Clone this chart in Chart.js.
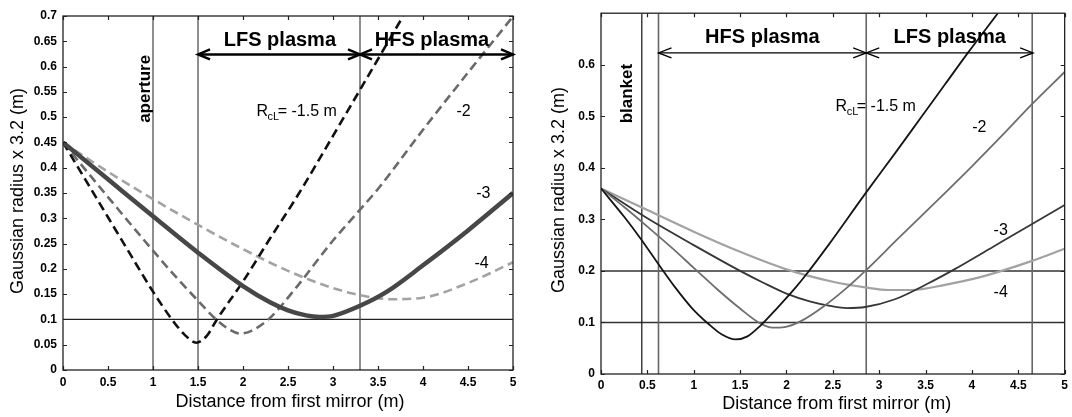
<!DOCTYPE html>
<html><head><meta charset="utf-8">
<script src="https://cdn.jsdelivr.net/npm/chart.js@4/dist/chart.umd.min.js"></script>
<style>
html,body{margin:0;padding:0;background:#fff;}
#wrap{position:relative;width:1072px;height:417px;overflow:hidden;background:#fff;}
canvas{position:absolute;top:0;}
</style></head><body>
<div id="wrap">
<canvas id="c1" width="536" height="417" style="left:0"></canvas>
<canvas id="c2" width="536" height="417" style="left:536px"></canvas>
</div>
<script>
// ---------------- DATA ----------------
const xTickValues = [0,0.5,1,1.5,2,2.5,3,3.5,4,4.5,5];
const yTickValuesLeft = [0,0.05,0.1,0.15,0.2,0.25,0.3,0.35,0.4,0.45,0.5,0.55,0.6,0.65,0.7];
const yTickValuesRight = [0,0.1,0.2,0.3,0.4,0.5,0.6];

// Left panel (aperture case), R_cL = -1.5, -2, -3, -4 m
const L_m15_x = [0,0.25,0.5,0.75,1.0,1.21,1.35,1.48,1.6,1.71,2.0,2.3,2.6,3.0,3.3,3.78];
const L_m15_y = [0.45,0.376,0.302,0.228,0.155,0.1,0.07,0.054,0.068,0.1,0.175,0.26,0.343,0.463,0.554,0.70];
const L_m2_x  = [0,0.5,1.0,1.25,1.5,1.7,1.85,1.97,2.1,2.3,2.6,3.0,3.3,3.5,4.0,4.5,5.0];
const L_m2_y  = [0.45,0.342,0.236,0.185,0.137,0.1,0.08,0.072,0.078,0.103,0.165,0.256,0.317,0.358,0.475,0.588,0.699];
const L_m3_x  = [0,0.5,1.0,1.5,2.0,2.3,2.5,2.7,2.85,3.0,3.3,3.6,4.0,4.5,5.0];
const L_m3_y  = [0.45,0.377,0.304,0.232,0.166,0.134,0.118,0.108,0.105,0.107,0.127,0.155,0.207,0.276,0.35];
const L_m4_x  = [0,0.5,1.0,1.5,2.0,2.5,3.0,3.3,3.65,4.0,4.5,5.0];
const L_m4_y  = [0.45,0.392,0.338,0.287,0.239,0.196,0.162,0.148,0.14,0.143,0.172,0.213];
const L_vlines = [1.0,1.5,3.3];
const L_hlines = [0.1];

// Right panel (blanket case)
const R_m15_x = [0,0.25,0.43,0.62,0.8,0.98,1.16,1.3,1.45,1.58,1.72,1.9,2.1,2.2,2.46,2.85,3.17,3.46,3.71,3.96,4.28];
const R_m15_y = [0.36,0.305,0.262,0.213,0.168,0.128,0.097,0.077,0.067,0.073,0.094,0.128,0.168,0.19,0.252,0.35,0.428,0.5,0.562,0.624,0.70];
const R_m2_x  = [0,0.25,0.5,0.75,1.0,1.25,1.5,1.7,1.85,1.98,2.15,2.4,2.65,2.85,3.2,3.6,4.0,4.3,4.64,5.0];
const R_m2_y  = [0.36,0.324,0.286,0.247,0.206,0.165,0.127,0.1,0.09,0.091,0.102,0.131,0.167,0.2,0.262,0.332,0.403,0.458,0.522,0.586];
const R_m3_x  = [0,0.5,1.0,1.5,1.75,2.0,2.25,2.5,2.65,2.85,3.17,3.52,3.81,4.23,4.64,5.0];
const R_m3_y  = [0.36,0.302,0.25,0.2,0.177,0.156,0.141,0.131,0.128,0.13,0.145,0.175,0.203,0.247,0.29,0.328];
const R_m4_x  = [0,0.5,1.0,1.5,2.0,2.5,2.85,3.1,3.35,3.71,4.07,4.32,4.64,5.0];
const R_m4_y  = [0.36,0.318,0.276,0.237,0.203,0.179,0.168,0.163,0.163,0.173,0.187,0.2,0.219,0.243];
const R_vlinesBlack = [0.44];
const R_vlinesGray = [0.62,2.86,4.65];
const R_hlines = [0.1,0.2];

const xTitle = 'Distance from first mirror (m)';
const yTitle = 'Gaussian radius x 3.2 (m)';

// ---------------- RENDER ----------------
const FONT = '"Liberation Sans", Arial, Helvetica, sans-serif';
Chart.defaults.font.family = FONT;

function fmt(v){ return String(parseFloat(Number(v).toFixed(2))); }
function pts(xs, ys){ return xs.map((x,i)=>({x:x, y:ys[i]})); }

function drawArrow(ctx, x1, x2, y, head, half, lw){
  ctx.save();
  ctx.strokeStyle = '#000'; ctx.lineWidth = lw; ctx.lineCap='butt'; ctx.lineJoin='miter';
  ctx.beginPath(); ctx.moveTo(x1, y); ctx.lineTo(x2, y); ctx.stroke();
  ctx.beginPath();
  ctx.moveTo(x1+head, y-half); ctx.lineTo(x1, y); ctx.lineTo(x1+head, y+half);
  ctx.moveTo(x2-head, y-half); ctx.lineTo(x2, y); ctx.lineTo(x2-head, y+half);
  ctx.stroke();
  ctx.restore();
}

function makeOverlay(P){
  return {
    id:'overlay',
    afterDatasetsDraw(chart){
      const ctx = chart.ctx, xs = chart.scales.x, ys = chart.scales.y, a = chart.chartArea;
      ctx.save();
      ctx.strokeStyle = '#222'; ctx.lineWidth = 1.3;
      ctx.strokeRect(a.left, a.top, a.right-a.left, a.bottom-a.top);
      ctx.lineWidth = 1.2;
      ctx.beginPath();
      xs.ticks.forEach(t=>{
        const px = Math.round(xs.getPixelForValue(t.value))+0.5;
        ctx.moveTo(px, a.bottom); ctx.lineTo(px, a.bottom-4);
        ctx.moveTo(px, a.top); ctx.lineTo(px, a.top+4);
      });
      ys.ticks.forEach(t=>{
        const py = Math.round(ys.getPixelForValue(t.value))+0.5;
        ctx.moveTo(a.left, py); ctx.lineTo(a.left+4, py);
        ctx.moveTo(a.right, py); ctx.lineTo(a.right-4, py);
      });
      ctx.stroke();
      P.arrows.forEach(ar=>{
        drawArrow(ctx, xs.getPixelForValue(ar.x1), xs.getPixelForValue(ar.x2), ys.getPixelForValue(ar.y), ar.head, ar.half, ar.lw);
      });
      ctx.fillStyle = '#000';
      P.texts.forEach(t=>{
        const px = xs.getPixelForValue(t.x), py = ys.getPixelForValue(t.y);
        ctx.font = (t.bold?'bold ':'') + t.size + 'px ' + FONT;
        ctx.textBaseline = 'middle';
        if (t.rot){
          ctx.save(); ctx.translate(px, py); ctx.rotate(-Math.PI/2);
          ctx.textAlign = 'center'; ctx.fillText(t.text, 0, 0); ctx.restore();
        } else if (t.sub){
          ctx.textAlign = 'left';
          ctx.fillText(t.text, px, py);
          let w = ctx.measureText(t.text).width;
          ctx.font = '11px ' + FONT;
          ctx.fillText(t.sub, px + w - 0.5, py + 5);
          let w2 = ctx.measureText(t.sub).width;
          ctx.font = t.size + 'px ' + FONT;
          ctx.fillText(t.rest, px + w + w2 - 2, py);
        } else {
          ctx.textAlign = 'center';
          ctx.fillText(t.text, px, py);
        }
      });
      ctx.font = '18px ' + FONT;
      ctx.textAlign = 'center'; ctx.textBaseline = 'middle';
      ctx.fillText(xTitle, (a.left+a.right)/2 + P.xTitleDx, P.xTitleY);
      ctx.save(); ctx.translate(P.yTitleX, P.yTitleY); ctx.rotate(-Math.PI/2);
      ctx.fillText(yTitle, 0, 0); ctx.restore();
      ctx.restore();
    }
  };
}

function panel(id, P){
  const datasets = [];
  P.series.forEach((s,i)=>datasets.push({
    data: pts(s.x, s.y), borderColor: s.color, borderWidth: s.width,
    borderDash: s.dash || [], pointRadius: 0, fill: false,
    cubicInterpolationMode: 'monotone', order: s.order
  }));
  P.vlines.forEach(v=>datasets.push({
    data: [{x:v.x, y:0},{x:v.x, y:P.ymax}], borderColor: v.color, borderWidth: v.width,
    pointRadius:0, fill:false, order: 20
  }));
  P.hlines.forEach(h=>datasets.push({
    data: [{x:0, y:h.y},{x:5, y:h.y}], borderColor: h.color, borderWidth: h.width,
    pointRadius:0, fill:false, order: 20
  }));
  new Chart(document.getElementById(id), {
    type: 'line',
    data: {datasets},
    options: {
      responsive:false, animation:false, devicePixelRatio:1,
      layout:{padding:{left:0, right:P.padRight, top:P.padTop, bottom:0}},
      plugins:{legend:{display:false}, tooltip:{enabled:false}},
      scales:{
        x:{type:'linear', min:0, max:5,
           afterBuildTicks: s=>{ s.ticks = xTickValues.map(v=>({value:v})); },
           afterFit: s=>{ s.height = P.xh; },
           grid:{display:false, drawTicks:false}, border:{display:false},
           ticks:{padding:P.xpad, autoSkip:false, maxRotation:0, color:'#000',
                  font:{size:12, weight:'bold'}, callback: v=>fmt(v)}},
        y:{type:'linear', min:0, max:P.ymax,
           afterBuildTicks: s=>{ s.ticks = P.yt.map(v=>({value:v})); },
           afterFit: s=>{ s.width = P.yw; },
           grid:{display:false, drawTicks:false}, border:{display:false},
           ticks:{padding:6, autoSkip:false, color:'#000',
                  font:{size:12, weight:'bold'}, callback: v=>fmt(v)}}
      }
    },
    plugins:[makeOverlay(P)]
  });
}

panel('c1', {
  ymax:0.7, yt:yTickValuesLeft, padRight:23, padTop:16, xh:47, yw:63, xpad:5,
  xTitleY:402, xTitleDx:2, yTitleX:18, yTitleY:191,
  series:[
    {x:L_m15_x, y:L_m15_y, color:'#111', width:2.6, dash:[9,5], order:2},
    {x:L_m2_x,  y:L_m2_y,  color:'#6a6a6a', width:2.6, dash:[9,5], order:3},
    {x:L_m3_x,  y:L_m3_y,  color:'#474747', width:4.5, order:1},
    {x:L_m4_x,  y:L_m4_y,  color:'#a3a3a3', width:2.6, dash:[9,5], order:4}
  ],
  vlines: L_vlines.map(x=>({x:x, color:'#444', width:1.2})),
  hlines: L_hlines.map(y=>({y:y, color:'#222', width:1.2})),
  arrows:[
    {x1:1.5, x2:3.3, y:0.624, head:12, half:5, lw:2.4},
    {x1:3.3, x2:5.0, y:0.624, head:12, half:5, lw:2.4}
  ],
  texts:[
    {text:'LFS plasma', x:2.41, y:0.651, size:20, bold:true},
    {text:'HFS plasma', x:4.10, y:0.651, size:20, bold:true},
    {text:'aperture', x:0.92, y:0.556, size:17, bold:true, rot:true},
    {text:'R', sub:'cL', rest:'= -1.5 m', x:2.15, y:0.511, size:16},
    {text:'-2', x:4.45, y:0.511, size:16},
    {text:'-3', x:4.67, y:0.349, size:16},
    {text:'-4', x:4.65, y:0.211, size:16}
  ]
});

panel('c2', {
  ymax:0.7, yt:yTickValuesRight, padRight:5, padTop:9, xh:43, yw:65, xpad:4,
  xTitleY:404, xTitleDx:4, yTitleX:23, yTitleY:190,
  series:[
    {x:R_m15_x, y:R_m15_y, color:'#151515', width:1.8, order:1},
    {x:R_m2_x,  y:R_m2_y,  color:'#6e6e6e', width:1.8, order:2},
    {x:R_m3_x,  y:R_m3_y,  color:'#363636', width:1.8, order:3},
    {x:R_m4_x,  y:R_m4_y,  color:'#a2a2a2', width:2.2, order:4}
  ],
  vlines: R_vlinesBlack.map(x=>({x:x, color:'#111', width:1.2}))
          .concat(R_vlinesGray.map(x=>({x:x, color:'#666', width:1.6}))),
  hlines: R_hlines.map(y=>({y:y, color:'#333', width:1.5})),
  arrows:[
    {x1:0.62, x2:2.86, y:0.623, head:13, half:5, lw:1.3},
    {x1:2.86, x2:4.66, y:0.623, head:13, half:5, lw:1.3}
  ],
  texts:[
    {text:'HFS plasma', x:1.74, y:0.652, size:20, bold:true},
    {text:'LFS plasma', x:3.76, y:0.652, size:20, bold:true},
    {text:'blanket', x:0.28, y:0.544, size:17, bold:true, rot:true},
    {text:'R', sub:'cL', rest:'= -1.5 m', x:2.53, y:0.518, size:16},
    {text:'-2', x:4.08, y:0.478, size:16},
    {text:'-3', x:4.31, y:0.279, size:16},
    {text:'-4', x:4.31, y:0.158, size:16}
  ]
});
</script>
</body></html>
